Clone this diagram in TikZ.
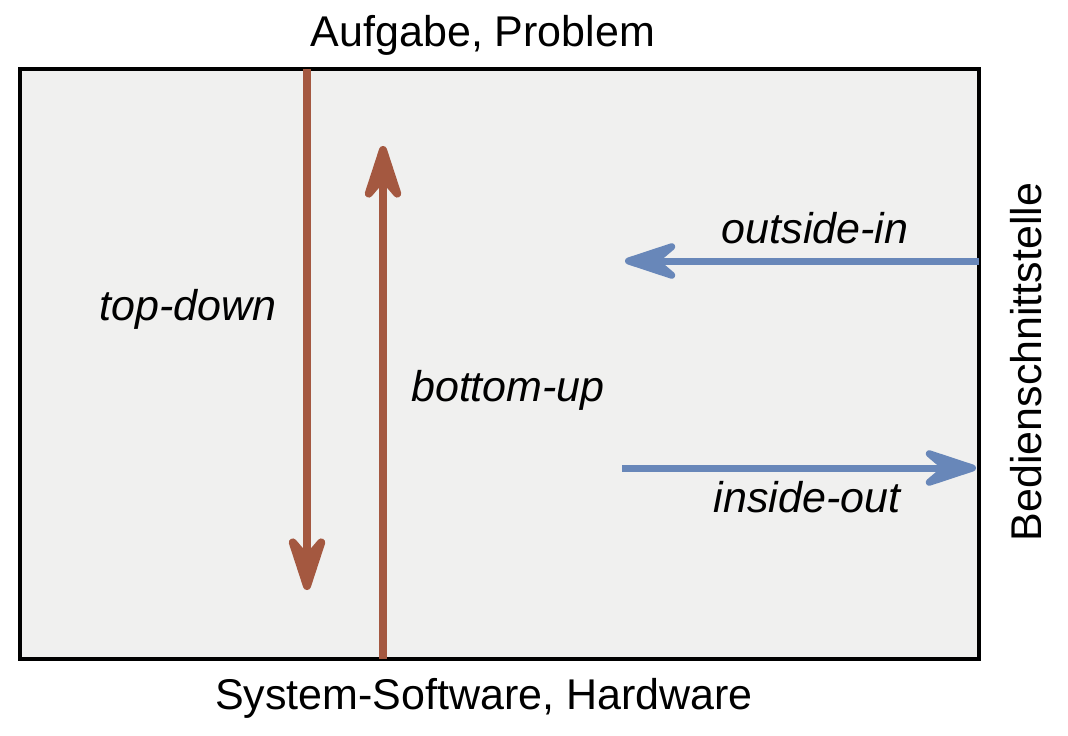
\documentclass[tikz,border=0pt]{standalone}
\usepackage{fontspec}
\setmainfont{Liberation Sans}
\usetikzlibrary{arrows.meta}
\definecolor{boxfill}{RGB}{240,240,239}
\definecolor{brownarr}{RGB}{164,88,64}
\definecolor{bluearr}{RGB}{104,135,185}
\tikzset{
  lbl/.style={font=\fontsize{43}{50}\selectfont, anchor=base, inner sep=0pt},
  ilbl/.style={lbl, font=\fontsize{43}{50}\selectfont\itshape},
  brownarrow/.style={draw=brownarr, line width=8pt, -{Stealth[length=74pt,width=48pt,inset=28pt,round]}},
  bluearrow/.style={draw=bluearr, line width=7pt, -{Stealth[length=70pt,width=46pt,inset=27pt,round]}},
}
\begin{document}
\begin{tikzpicture}[x=1pt,y=-1pt]
\useasboundingbox (0,0) rectangle (1068,736);
\draw[line width=3.2pt, fill=boxfill] (20,69) rectangle (979,659);
\coordinate (tdstart) at (307,69);
\coordinate (tdend) at (307,590);
\coordinate (bustart) at (383,659);
\coordinate (buend) at (383,146);
\coordinate (oistart) at (979,261);
\coordinate (oiend) at (625,261);
\coordinate (iostart) at (622,468);
\coordinate (ioend) at (976,468);
\draw[brownarrow] (tdstart) -- (tdend);
\draw[brownarrow] (bustart) -- (buend);
\draw[bluearrow] (oistart) -- (oiend);
\draw[bluearrow] (iostart) -- (ioend);
\node[lbl] (top) at (483,46) {Aufgabe, Problem};
\node[lbl] (bottom) at (484,709) {System-Software, Hardware};
\node[ilbl] (td) at (188,320) {top-down};
\node[ilbl] (bu) at (508,401) {bottom-up};
\node[ilbl] (oi) at (815,243) {outside-in};
\node[ilbl] (io) at (807,512) {inside-out};
\node[lbl, rotate=90] (bed) at (1041,362) {Bedienschnittstelle};
\end{tikzpicture}
\end{document}
